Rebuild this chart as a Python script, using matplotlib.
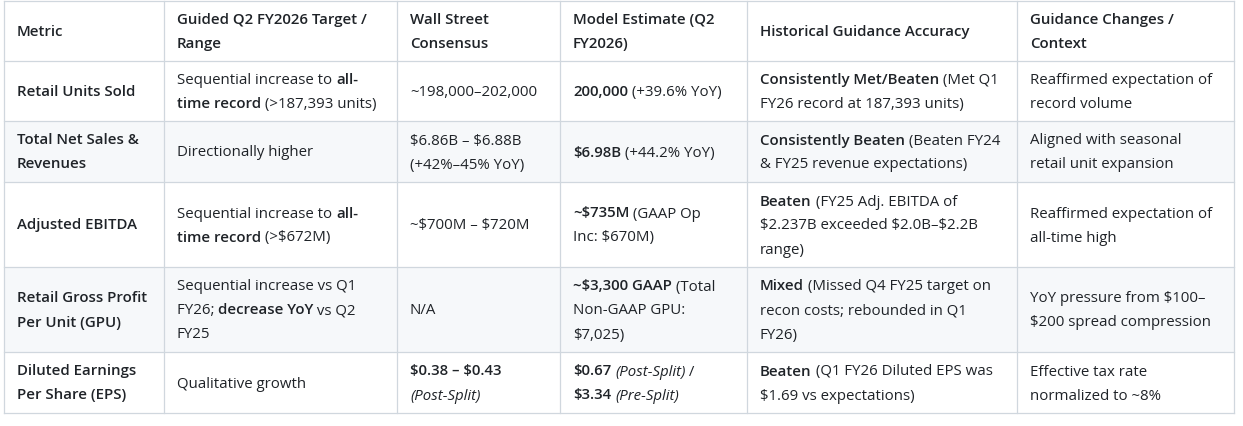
import re
import matplotlib
matplotlib.use("Agg")
import matplotlib.pyplot as plt
from matplotlib import font_manager

# table content, ** = bold, * = italic, \n = line break as in the picture
headers = ["Metric", "Guided Q2 FY2026 Target /\nRange", "Wall Street\nConsensus",
           "Model Estimate (Q2\nFY2026)", "Historical Guidance Accuracy",
           "Guidance Changes /\nContext"]

metrics = ["**Retail Units Sold**", "**Total Net Sales &\nRevenues**", "**Adjusted EBITDA**",
           "**Retail Gross Profit\nPer Unit (GPU)**", "**Diluted Earnings\nPer Share (EPS)**"]

guided = ["Sequential increase to **all-\ntime record** (>187,393 units)",
          "Directionally higher",
          "Sequential increase to **all-\ntime record** (>$672M)",
          "Sequential increase vs Q1\nFY26; **decrease YoY** vs Q2\nFY25",
          "Qualitative growth"]

consensus = ["~198,000–202,000",
             "$6.86B – $6.88B\n(+42%–45% YoY)",
             "~$700M – $720M",
             "N/A",
             "**$0.38 – $0.43**\n*(Post-Split)*"]

model = ["**200,000** (+39.6% YoY)",
         "**$6.98B** (+44.2% YoY)",
         "**~$735M** (GAAP Op\nInc: $670M)",
         "**~$3,300 GAAP** (Total\nNon-GAAP GPU:\n$7,025)",
         "**$0.67** *(Post-Split)* /\n**$3.34** *(Pre-Split)*"]

accuracy = ["**Consistently Met/Beaten** (Met Q1\nFY26 record at 187,393 units)",
            "**Consistently Beaten** (Beaten FY24\n& FY25 revenue expectations)",
            "**Beaten** (FY25 Adj. EBITDA of\n$2.237B exceeded $2.0B–$2.2B\nrange)",
            "**Mixed** (Missed Q4 FY25 target on\nrecon costs; rebounded in Q1\nFY26)",
            "**Beaten** (Q1 FY26 Diluted EPS was\n$1.69 vs expectations)"]

context = ["Reaffirmed expectation of\nrecord volume",
           "Aligned with seasonal\nretail unit expansion",
           "Reaffirmed expectation of\nall-time high",
           "YoY pressure from $100–\n$200 spread compression",
           "Effective tax rate\nnormalized to ~8%"]

col_edges = [4, 164, 397, 560, 747, 1017, 1234]
row_edges = [0.5, 61, 121, 182, 267, 352, 413]

W, H = 1243, 426
TXT = "#1f2328"
LINE = "#d0d7de"
SHADE = "#f6f8fa"
FONT = ["Open Sans", "DejaVu Sans"]
FS = 10.8
LH = 24
PAD = 13
BOLD = 600

plt.rcParams["text.parse_math"] = False

fig = plt.figure(figsize=(W / 100, H / 100), dpi=100)
ax = fig.add_axes([0, 0, 1, 1])
ax.set_xlim(0, W)
ax.set_ylim(H, 0)
ax.axis("off")
renderer = fig.canvas.get_renderer()


def parse(line):
    segs = []
    for m in re.finditer(r"\*\*(.+?)\*\*|\*(.+?)\*|([^*]+)", line):
        if m.group(1) is not None:
            segs.append((m.group(1), BOLD, "normal"))
        elif m.group(2) is not None:
            segs.append((m.group(2), "normal", "italic"))
        else:
            segs.append((m.group(3), "normal", "normal"))
    return segs


def width(s, weight, style):
    t = ax.text(0, 0, "x" + s + "x", fontsize=FS, family=FONT, weight=weight, style=style)
    t2 = ax.text(0, 0, "xx", fontsize=FS, family=FONT, weight=weight, style=style)
    w = t.get_window_extent(renderer).width - t2.get_window_extent(renderer).width
    t.remove()
    t2.remove()
    return w


def draw_cell(text, x0, top, bottom, force_bold=False):
    # bold markers can span a line break, so carry them over
    raw = text.split("\n")
    lines = []
    open_b = False
    for ln in raw:
        if open_b:
            ln = "**" + ln
        if ln.count("**") % 2 == 1:
            ln = ln + "**"
            open_b = not open_b
        lines.append(ln)
    n = len(lines)
    mid = (top + bottom) / 2
    for i, ln in enumerate(lines):
        yc = mid + (i - (n - 1) / 2) * LH
        x = x0 + PAD
        for s, wt, st in parse(ln):
            if force_bold:
                wt = BOLD
            ax.text(x, yc + 5, s, fontsize=FS, family=FONT, weight=wt, style=st,
                    color=TXT, va="baseline", ha="left")
            x += width(s, wt, st)


# shaded rows
for r in (2, 4):
    ax.add_patch(plt.Rectangle((col_edges[0], row_edges[r]), col_edges[-1] - col_edges[0],
                               row_edges[r + 1] - row_edges[r], color=SHADE, lw=0))

# grid
for y in row_edges:
    ax.plot([col_edges[0], col_edges[-1]], [y, y], color=LINE, lw=0.9)
for x in col_edges:
    ax.plot([x, x], [row_edges[0], row_edges[-1]], color=LINE, lw=0.9)

for c, h in enumerate(headers):
    draw_cell(h, col_edges[c], row_edges[0], row_edges[1], force_bold=True)

columns = [metrics, guided, consensus, model, accuracy, context]
for c, col in enumerate(columns):
    for r, cell in enumerate(col):
        draw_cell(cell, col_edges[c], row_edges[r + 1], row_edges[r + 2])

fig.savefig("out.png", dpi=100)
